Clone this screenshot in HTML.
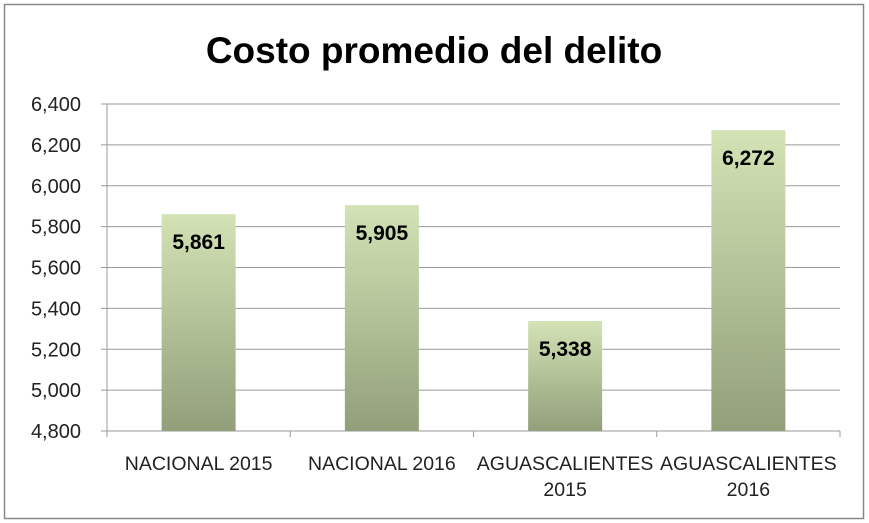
<!DOCTYPE html>
<html><head><meta charset="utf-8"><style>
html,body{margin:0;padding:0;background:#fff}
svg{display:block;font-family:"Liberation Sans",sans-serif}
</style></head><body>
<svg width="869" height="523">
<defs><linearGradient id="g" x1="0" y1="0" x2="0" y2="1">
<stop offset="0" stop-color="#d3e3b5"/><stop offset="1" stop-color="#929f7a"/></linearGradient></defs>
<rect x="4.5" y="4.5" width="859" height="514" fill="#fff" stroke="#888" stroke-width="1.5"/>
<text x="434" y="63" text-anchor="middle" font-size="37" font-weight="bold" fill="#000">Costo promedio del delito</text>
<g id="grid"></g><g id="bars"></g><g id="labels"></g>
</svg>
<script>
const categories=[["NACIONAL 2015"],["NACIONAL 2016"],["AGUASCALIENTES","2015"],["AGUASCALIENTES","2016"]];
const values=[5861,5905,5338,6272];
const ticks=[4800,5000,5200,5400,5600,5800,6000,6200,6400];
const NS="http://www.w3.org/2000/svg";
const x0=107,x1=840,yMin=4800,yMax=6400,yTop=104,yBot=431;
const y=v=>yBot-(v-yMin)/(yMax-yMin)*(yBot-yTop);
const bw=(x1-x0)/categories.length;
const xc=i=>x0+bw*(i+0.5);
function mk(t,a,p){const e=document.createElementNS(NS,t);for(const k in a)e.setAttribute(k,a[k]);p.appendChild(e);return e;}
const grid=document.getElementById('grid'),bars=document.getElementById('bars'),labels=document.getElementById('labels');
ticks.forEach(t=>{
 const l=mk('line',{x1:x0-6,x2:x1,y1:y(t),y2:y(t),stroke:'#9a9a9a','stroke-width':1},grid);
 
 
 const tx=mk('text',{x:81,y:y(t)+7,'text-anchor':'end','font-size':20,fill:'#222'},grid);
 tx.textContent=t.toLocaleString('en-US');
 
 
});
const ax=mk('line',{x1:x0,x2:x0,y1:yTop,y2:yBot,stroke:'#9a9a9a'},grid);


for(let i=0;i<=categories.length;i++){
 const tk=mk('line',{x1:x0+bw*i,x2:x0+bw*i,y1:yBot,y2:yBot+6,stroke:'#9a9a9a'},grid);
 
 
}
values.forEach((v,i)=>{
 const r=mk('rect',{x:xc(i)-37,y:y(v),width:74,height:yBot-y(v),fill:'url(#g)'},bars);
 
 
 const t=mk('text',{x:xc(i),y:y(v)+35,'text-anchor':'middle','font-size':21,'font-weight':'bold',fill:'#000'},labels);
 t.textContent=v.toLocaleString('en-US');
 
 
 categories[i].forEach((s,j)=>{
  const c=mk('text',{x:xc(i),y:470+j*26,'text-anchor':'middle','font-size':19.5,fill:'#222'},labels);
  c.textContent=s;
  
  
 });
});
</script>
</body></html>
